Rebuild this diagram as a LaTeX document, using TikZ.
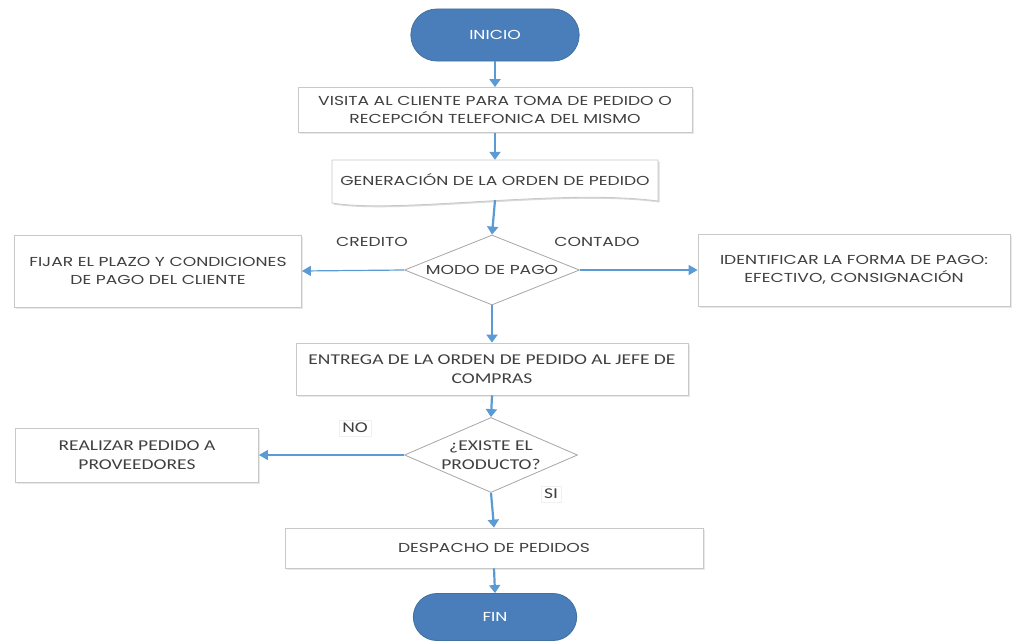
\documentclass[tikz,border=0pt]{standalone}
\usepackage{fontspec}
\setmainfont{Poppins}[FakeStretch=1.32]
\newfontfamily\calfont{Carlito}[FakeStretch=1.3]
\usetikzlibrary{arrows.meta,shapes.geometric,shapes.misc,shadows}
\definecolor{pill}{HTML}{4A7EBB}
\definecolor{pillborder}{HTML}{41719C}
\definecolor{arrowblue}{HTML}{5B9BD5}
\definecolor{boxgray}{HTML}{C8C8C8}
\definecolor{txt}{HTML}{404040}
\begin{document}
\begin{tikzpicture}[x=1pt,y=-1pt,
  term/.style={rounded rectangle, fill=pill, draw=pillborder, line width=0.8pt, text=white,
    minimum width=175pt, minimum height=52pt, font=\fontsize{13}{15}\selectfont},
  box/.style={rectangle, draw=boxgray, fill=white, line width=0.8pt, text=txt, align=center,
    drop shadow={shadow xshift=1.5pt, shadow yshift=-1.5pt, opacity=0.18},
    font=\fontsize{13}{18}\selectfont},
  cbox/.style={box, font=\calfont\fontsize{15}{19}\selectfont},
  dec/.style={diamond, draw=gray!70, fill=white, line width=0.8pt, text=txt, align=center,
    aspect=2.5, inner sep=0pt},
  lbl/.style={text=txt, font=\fontsize{13}{15}\selectfont},
  arr/.style={draw=arrowblue, line width=2.2pt, -{Triangle[width=11pt,length=8pt]}},
  harr/.style={draw=arrowblue, line width=1.2pt, -{Triangle[width=10pt,length=9pt]}}
]
\useasboundingbox (0,0) rectangle (1016,642);

\node[term] (inicio) at (495,35) {INICIO};
\node[box, minimum width=394pt, minimum height=45pt] (visita) at (495,110)
  {VISITA AL CLIENTE PARA TOMA DE PEDIDO O\\RECEPCIÓN TELEFONICA DEL MISMO};

% document shape
\node[minimum width=326pt, minimum height=40pt] (doc) at (495,180) {};
\fill[black, opacity=0.15] (333.5,161.5) -- (659.5,161.5) -- (659.5,202.5)
  .. controls (561.5,189.5) and (401.5,215.5) .. (333.5,204.5) -- cycle;
\filldraw[draw=boxgray, fill=white, line width=0.8pt] (332,160) -- (658,160) -- (658,201)
  .. controls (560,188) and (400,214) .. (332,203) -- cycle;
\node[text=txt, font=\fontsize{13}{15}\selectfont] (doctext) at (doc.center) {GENERACIÓN DE LA ORDEN DE PEDIDO};

\node[dec, minimum width=175pt, minimum height=70pt, font=\fontsize{13}{15}\selectfont] (modo) at (492,270) {MODO DE PAGO};
\node[box, minimum width=287pt, minimum height=72pt] (fijar) at (158,271)
  {FIJAR EL PLAZO Y CONDICIONES\\DE PAGO DEL CLIENTE};
\node[box, minimum width=312pt, minimum height=72pt] (ident) at (854,270)
  {IDENTIFICAR LA FORMA DE PAGO:\\EFECTIVO, CONSIGNACIÓN};
\node[lbl] (credito) at (372,242) {CREDITO};
\node[lbl] (contado) at (597,242) {CONTADO};

\node[cbox, minimum width=392pt, minimum height=52pt] (entrega) at (492,369)
  {ENTREGA DE LA ORDEN DE PEDIDO AL JEFE DE\\COMPRAS};
\node[dec, minimum width=173pt, minimum height=75pt, font=\calfont\fontsize{15}{19}\selectfont] (existe) at (491,455)
  {¿EXISTE EL\\PRODUCTO?};
\node[cbox, minimum width=243pt, minimum height=54pt] (realizar) at (137,455)
  {REALIZAR PEDIDO A\\PROVEEDORES};
\node[fill=white, draw=gray!12, text=txt, font=\calfont\fontsize{15}{19}\selectfont, inner sep=3pt] (no) at (355,428) {NO};
\node[fill=white, draw=gray!12, text=txt, font=\calfont\fontsize{15}{19}\selectfont, inner sep=3pt] (si) at (551,494) {SI};

\node[box, minimum width=418pt, minimum height=40pt] (despacho) at (494,548) {DESPACHO DE PEDIDOS};
\node[term, minimum width=170pt, minimum height=47pt] (fin) at (495,617) {FIN};

\draw[arr] (inicio.south) -- (visita.north);
\draw[arr] (visita.south) -- (doc.north);
\draw[arr] (doc.south) -- (modo.north);
\draw[harr] (modo.west) -- (fijar.east);
\draw[harr] (modo.east) -- (ident.west);
\draw[arr] (modo.south) -- (entrega.north);
\draw[arr] (entrega.south) -- (existe.north);
\draw[harr] (existe.west) -- (realizar.east);
\draw[arr] (existe.south) -- (despacho.north);
\draw[arr] (despacho.south) -- (fin.north);
\end{tikzpicture}
\end{document}
